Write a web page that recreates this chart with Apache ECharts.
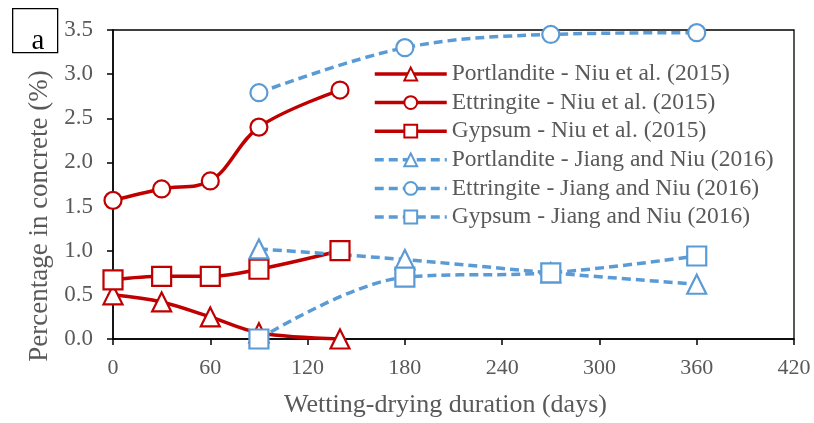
<!DOCTYPE html>
<html><head><meta charset="utf-8">
<script src="https://cdn.jsdelivr.net/npm/echarts@6/dist/echarts.min.js"></script>
<style>html,body{margin:0;padding:0;background:#fff}#c{width:814px;height:423px}</style>
</head><body><div id="c"></div>
<script>
const niuDays = [0, 30, 60, 90, 140];
const jiangDays = [90, 180, 270, 360];
const portlanditeNiu = [0.50, 0.42, 0.25, 0.07, 0.00];
const ettringiteNiu = [1.57, 1.70, 1.79, 2.40, 2.82];
const gypsumNiu = [0.67, 0.71, 0.71, 0.79, 1.00];
const portlanditeJiang = [1.02, 0.90, 0.75, 0.62];
const ettringiteJiang = [2.79, 3.30, 3.45, 3.47];
const gypsumJiang = [0.00, 0.70, 0.75, 0.94];
const seriesNames = [
  'Portlandite - Niu et al. (2015)',
  'Ettringite - Niu et al. (2015)',
  'Gypsum - Niu et al. (2015)',
  'Portlandite - Jiang and Niu (2016)',
  'Ettringite - Jiang and Niu (2016)',
  'Gypsum - Jiang and Niu (2016)'
];
const xTitle = 'Wetting-drying duration (days)';
const yTitle = 'Percentage in concrete (%)';
const panelLabel = 'a';

const RED = '#C00000', BLUE = '#5B9BD5', FONT = 'Liberation Serif', TXT = '#595959';
const zip = (xs, ys) => xs.map((x, i) => [x, ys[i]]);
function mk(name, xs, ys, color, dashed, symbol) {
  return {
    name, type: 'line', data: zip(xs, ys), smooth: 0.35,
    symbol, symbolSize: symbol === 'circle' ? 17 : 19,
    showAllSymbol: true,
    lineStyle: { color, width: 3.5, type: dashed ? [9, 5] : 'solid' },
    itemStyle: { color: '#fff', borderColor: color, borderWidth: 2.2 },
    emphasis: { disabled: true }
  };
}
const chart = echarts.init(document.getElementById('c'));
chart.setOption({
  animation: false,
  backgroundColor: '#fff',
  grid: { left: 113, right: 20, top: 30, bottom: 83, show: true, borderColor: '#000', borderWidth: 1.3, backgroundColor: 'transparent' },
  xAxis: {
    type: 'value', min: 0, max: 420, interval: 60,
    name: xTitle, nameLocation: 'middle', nameGap: 53,
    nameTextStyle: { fontFamily: FONT, fontSize: 26, color: TXT, padding: [0, 16, 0, 0] },
    axisLine: { show: true, lineStyle: { color: '#000', width: 1.5 } },
    axisTick: { show: true, length: 6, lineStyle: { color: '#000', width: 1.5 } },
    axisLabel: { margin: 18, fontFamily: FONT, fontSize: 22, color: TXT },
    splitLine: { show: false }
  },
  yAxis: {
    type: 'value', min: 0, max: 3.5, interval: 0.5,
    name: yTitle, nameLocation: 'middle', nameGap: 52,
    nameTextStyle: { fontFamily: FONT, fontSize: 27, color: TXT, padding: [0, 63, 0, 0] },
    axisLine: { show: true, lineStyle: { color: '#000', width: 1.5 } },
    axisTick: { show: true, length: 6, lineStyle: { color: '#000', width: 1.5 } },
    axisLabel: { margin: 20, fontFamily: FONT, fontSize: 23, color: TXT, formatter: v => v.toFixed(1) },
    splitLine: { show: false }
  },
  legend: {
    orient: 'vertical', left: 368, top: 57, itemWidth: 72, itemHeight: 16, itemGap: 4.6,
    lineStyle: { width: 3.5 },
    textStyle: { fontFamily: FONT, fontSize: 23.5, lineHeight: 24, color: TXT },
    data: seriesNames
  },
  graphic: [
    { type: 'rect', left: 12, top: 8, shape: { width: 45, height: 44 }, style: { fill: '#fff', stroke: '#000', lineWidth: 1.3 } },
    { type: 'text', x: 38, y: 41, style: { text: panelLabel, font: '29px "Liberation Serif"', fill: '#000', align: 'center', verticalAlign: 'middle' } }
  ],
  series: [
    mk(seriesNames[0], niuDays, portlanditeNiu, RED, false, 'triangle'),
    mk(seriesNames[1], niuDays, ettringiteNiu, RED, false, 'circle'),
    mk(seriesNames[2], niuDays, gypsumNiu, RED, false, 'rect'),
    mk(seriesNames[3], jiangDays, portlanditeJiang, BLUE, true, 'triangle'),
    mk(seriesNames[4], jiangDays, ettringiteJiang, BLUE, true, 'circle'),
    mk(seriesNames[5], jiangDays, gypsumJiang, BLUE, true, 'rect')
  ]
});
</script></body></html>
